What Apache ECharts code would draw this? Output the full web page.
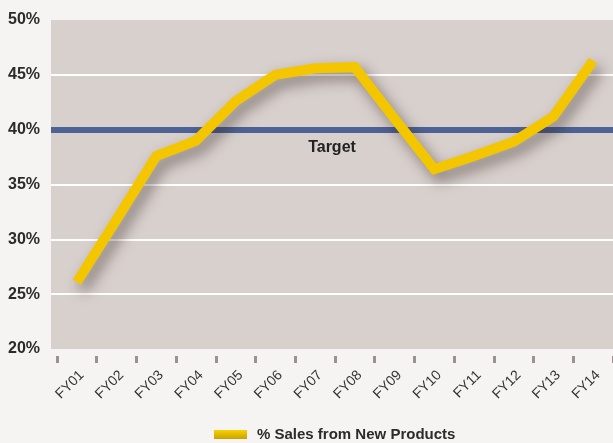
<!DOCTYPE html>
<html>
<head>
<meta charset="utf-8">
<script src="https://cdn.jsdelivr.net/npm/echarts@6/dist/echarts.min.js"></script>
<style>
  html, body { margin: 0; padding: 0; }
  #chart { width: 613px; height: 443px; }
</style>
</head>
<body>
<div id="chart"></div>
<script>
var categories = ["FY01", "FY02", "FY03", "FY04", "FY05", "FY06", "FY07", "FY08", "FY09", "FY10", "FY11", "FY12", "FY13", "FY14"];
var salesNew = [26.1, 31.8, 37.6, 39.0, 42.6, 45.0, 45.6, 45.7, 41.0, 36.4, 37.6, 38.9, 41.2, 46.3];
var seriesName = "% Sales from New Products";
var targetValue = 40;
var yTicks = [20, 25, 30, 35, 40, 45, 50];

var font = '"Liberation Sans", Arial, sans-serif';

var mychart = echarts.init(document.getElementById("chart"));

var option = {
  backgroundColor: "#f5f4f2",
  animation: false,
  // grid 0 = plot background, gridlines, target line
  // grid 1 = category axis + the sales line (starts a bit to the right)
  grid: [
    {
      left: 51,
      right: 0,
      top: 20,
      bottom: 94,
      show: true,
      backgroundColor: "#d8d0cd",
      borderWidth: 0
    },
    {
      left: 57,
      right: -14,
      top: 20,
      bottom: 94
    }
  ],
  legend: {
    data: [{
      name: seriesName,
      itemStyle: {
        color: new echarts.graphic.LinearGradient(0, 0, 0, 1, [
          { offset: 0, color: "#f8d200" },
          { offset: 1, color: "#c9a200" }
        ])
      }
    }],
    left: 209,
    top: 422,
    icon: "rect",
    itemWidth: 33,
    itemHeight: 9,
    textStyle: {
      color: "#2b2b2b",
      fontFamily: font,
      fontWeight: "bold",
      fontSize: 15,
      padding: [0, 0, 0, 5]
    }
  },
  xAxis: [
    {
      type: "category",
      gridIndex: 1,
      data: categories,
      boundaryGap: true,
      offset: 7,
      axisLine: { show: false },
      axisTick: {
        show: true,
        length: 7,
        lineStyle: { color: "#9b918f", width: 3 }
      },
      axisLabel: {
        rotate: 45,
        margin: 12,
        interval: 0,
        verticalAlign: "top",
        color: "#333333",
        fontFamily: font,
        fontSize: 14
      },
      splitLine: { show: false }
    },
    {
      type: "value",
      gridIndex: 0,
      min: 0,
      max: 1,
      show: false
    }
  ],
  yAxis: [
    {
      type: "value",
      gridIndex: 0,
      min: yTicks[0],
      max: yTicks[yTicks.length - 1],
      interval: 5,
      axisLine: { show: false },
      axisTick: { show: false },
      axisLabel: {
        formatter: "{value}%",
        margin: 11,
        padding: [2, 0, 0, 0],
        color: "#2b2b2b",
        fontFamily: font,
        fontWeight: "bold",
        fontSize: 16
      },
      splitLine: {
        show: true,
        showMinLine: false,
        showMaxLine: false,
        lineStyle: { color: "#ffffff", width: 2 }
      }
    },
    {
      type: "value",
      gridIndex: 1,
      min: yTicks[0],
      max: yTicks[yTicks.length - 1],
      interval: 5,
      show: false
    }
  ],
  series: [
    {
      name: "target",
      type: "line",
      xAxisIndex: 1,
      yAxisIndex: 0,
      data: [],
      silent: true,
      markLine: {
        silent: true,
        symbol: "none",
        lineStyle: {
          color: "#4e6296",
          width: 6,
          type: "solid"
        },
        label: {
          show: true,
          position: "insideMiddleBottom",
          formatter: "Target",
          distance: 10,
          color: "#222222",
          fontFamily: font,
          fontWeight: "bold",
          fontSize: 16
        },
        data: [{ yAxis: targetValue }]
      }
    },
    {
      name: seriesName,
      type: "line",
      xAxisIndex: 0,
      yAxisIndex: 1,
      data: salesNew,
      showSymbol: false,
      symbol: "none",
      z: 5,
      itemStyle: { color: "#f4c600" },
      lineStyle: {
        width: 10,
        color: "#f4c600",
        join: "miter",
        cap: "butt",
        shadowColor: "rgba(40,25,20,0.5)",
        shadowBlur: 14,
        shadowOffsetX: 5,
        shadowOffsetY: 7
      }
    }
  ]
};

mychart.setOption(option);
</script>
</body>
</html>
